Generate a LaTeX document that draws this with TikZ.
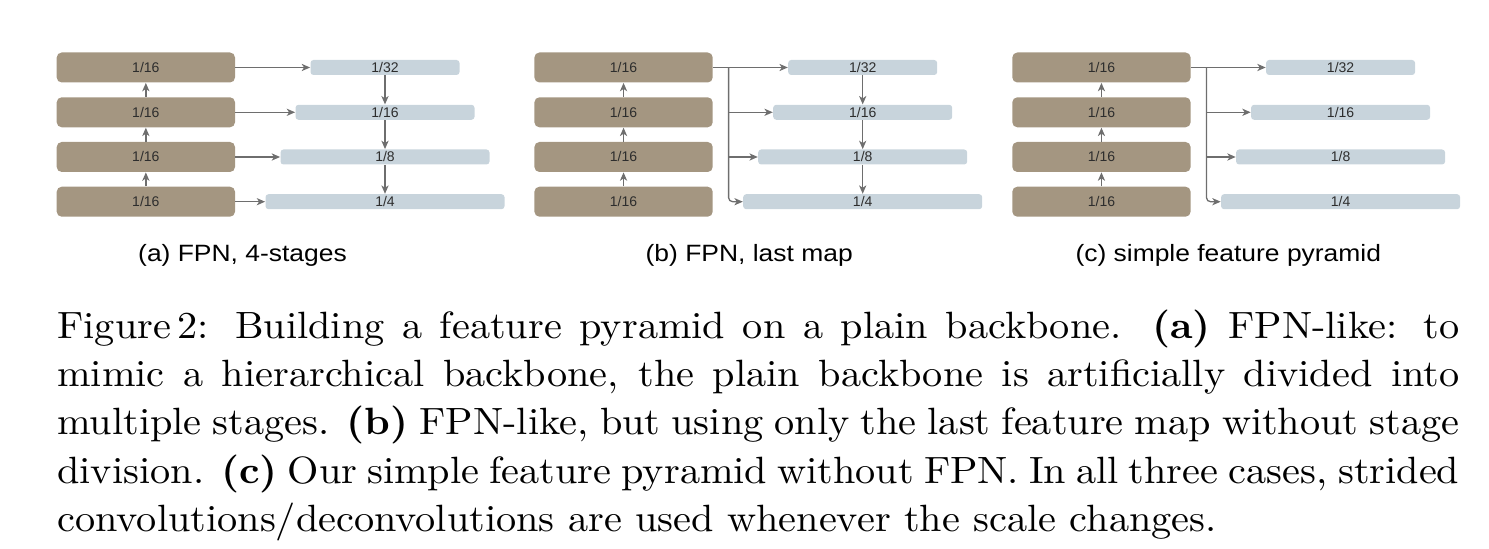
\documentclass[tikz,border=0pt]{standalone}
\usepackage{fontspec}
\setmainfont{lmroman10}[Extension=.otf, UprightFont=*-regular, BoldFont=*-bold, ItalicFont=*-italic, BoldItalicFont=*-bolditalic, FakeStretch=1.06]
\newfontfamily\sansf{Liberation Sans}
\newfontfamily\capf[FakeStretch=1.12]{Liberation Sans}
\usetikzlibrary{arrows.meta}
\definecolor{brownbox}{RGB}{164,150,129}
\definecolor{bluebox}{RGB}{200,212,220}
\definecolor{arrowgray}{RGB}{110,110,110}
\definecolor{labelgray}{RGB}{45,45,45}
\begin{document}
\begin{tikzpicture}[x=0.5pt,y=-0.5pt,
  stage/.style={fill=brownbox, rounded corners=2.5pt, minimum width=89.15pt, minimum height=15pt,
    inner sep=0pt, font=\sansf\fontsize{7pt}{8pt}\selectfont, text=labelgray},
  fmap/.style={fill=bluebox, rounded corners=1.5pt, minimum height=7.5pt,
    inner sep=0pt, font=\sansf\fontsize{7pt}{8pt}\selectfont, text=labelgray},
  conn/.style={draw=arrowgray, line width=0.65pt, -{Stealth[length=4.2pt,width=3.6pt,inset=1.2pt]}},
  subcap/.style={font=\capf\fontsize{11.8pt}{14pt}\selectfont, anchor=base, inner sep=0pt},
  figcap/.style={anchor=base west, inner sep=0pt, text width=701pt, align=justify,
    font=\fontsize{19pt}{24.15pt}\selectfont}
]
\useasboundingbox (0,0) rectangle (1489,549);
\foreach \p/\dx in {a/0,b/477.7,c/955.6}{
  \foreach \i/\y in {1/67.5,2/112.3,3/157,4/201.7}{
    \node[stage] (\p s\i) at (145.85+\dx,\y) {1/16};
  }
  \node[fmap, minimum width=74.5pt]  (\p f1) at (385+\dx,67.5)  {1/32};
  \node[fmap, minimum width=89.5pt]  (\p f2) at (385+\dx,112.3) {1/16};
  \node[fmap, minimum width=104.5pt] (\p f3) at (385+\dx,157)   {1/8};
  \node[fmap, minimum width=119.5pt] (\p f4) at (385+\dx,201.7) {1/4};
  \draw[conn] (\p s4.north) -- (\p s3.south);
  \draw[conn] (\p s3.north) -- (\p s2.south);
  \draw[conn] (\p s2.north) -- (\p s1.south);
  \draw[conn] (\p s1.east) -- (\p f1.west);
}
% (a) lateral connections and top-down path
\draw[conn] (as2.east) -- (af2.west);
\draw[conn] (as3.east) -- (af3.west);
\draw[conn] (as4.east) -- (af4.west);
\foreach \p in {a,b}{
  \draw[conn] (\p f1.south) -- (\p f2.north);
  \draw[conn] (\p f2.south) -- (\p f3.north);
  \draw[conn] (\p f3.south) -- (\p f4.north);
}
% (b), (c) branches from the last map
\foreach \p in {b,c}{
  \coordinate (\p j) at ([xshift=7.75pt]\p s1.east);
  \draw[conn, rounded corners=2pt] (\p j) |- (\p f4.west);
  \draw[conn] (\p j |- \p f2.west) -- (\p f2.west);
  \draw[conn] (\p j |- \p f3.west) -- (\p f3.west);
}
\node[subcap] (capa) at (242.5,261.5) {(a) FPN, 4-stages};
\node[subcap] (capb) at (749.2,261.5) {(b) FPN, last map};
\node[subcap] (capc) at (1228.3,261.5) {(c) simple feature pyramid};
\node[figcap] (figcap) at (57,338.3) {Figure\,2: Building a feature pyramid on a plain backbone. \textbf{(a)} FPN-like: to\linebreak
mimic a hierarchical backbone, the plain backbone is artificially divided into\linebreak
multiple stages. \textbf{(b)} FPN-like, but using only the last feature map without stage\linebreak
division. \textbf{(c)} Our simple feature pyramid without FPN. In all three cases, strided\linebreak
convolutions/deconvolutions are used whenever the scale changes.};
\end{tikzpicture}
\end{document}
